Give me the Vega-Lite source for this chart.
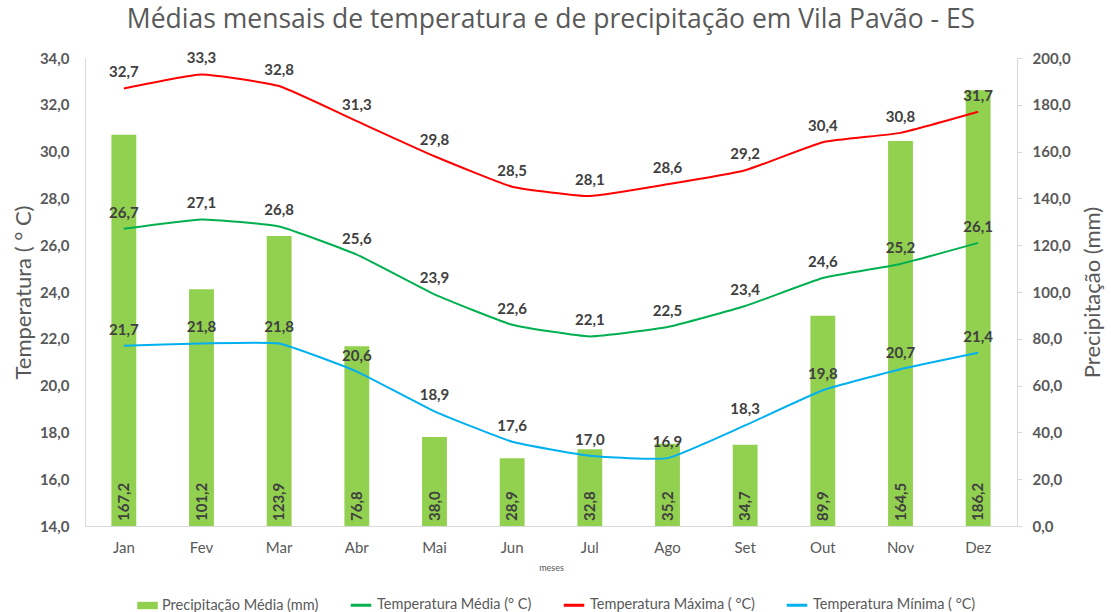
{
  "$schema": "https://vega.github.io/schema/vega-lite/v6.json",
  "width": 932,
  "height": 468,
  "autosize": {"type": "none"},
  "padding": {"left": 85, "top": 58, "right": 94, "bottom": 86},
  "background": "white",
  "title": {
    "text": "Médias mensais de temperatura e de precipitação em Vila Pavão - ES",
    "font": "Open Sans",
    "fontSize": 26.5,
    "fontWeight": "normal",
    "color": "#595959",
    "anchor": "middle",
    "offset": 18
  },
  "config": {
    "locale": {
      "number": {"decimal": ",", "thousands": ".", "grouping": [3], "currency": ["R$", ""]}
    },
    "font": "Lato",
    "view": {"stroke": null},
    "axis": {
      "grid": false,
      "labelFont": "Lato",
      "titleFont": "Lato",
      "labelColor": "#595959",
      "titleColor": "#595959",
      "domainColor": "#D9D9D9",
      "tickColor": "#D9D9D9"
    },
    "legend": {"labelFont": "Lato", "labelFontSize": 14.5, "labelColor": "#595959", "labelLimit": 400}
  },
  "datasets": {
    "precip": [
      {"mes": "Jan", "precip": 167.2},
      {"mes": "Fev", "precip": 101.2},
      {"mes": "Mar", "precip": 123.9},
      {"mes": "Abr", "precip": 76.8},
      {"mes": "Mai", "precip": 38.0},
      {"mes": "Jun", "precip": 28.9},
      {"mes": "Jul", "precip": 32.8},
      {"mes": "Ago", "precip": 35.2},
      {"mes": "Set", "precip": 34.7},
      {"mes": "Out", "precip": 89.9},
      {"mes": "Nov", "precip": 164.5},
      {"mes": "Dez", "precip": 186.2}
    ],
    "temp": [
      {"mes": "Jan", "serie": "Temperatura Média (° C)", "valor": 26.7},
      {"mes": "Fev", "serie": "Temperatura Média (° C)", "valor": 27.1},
      {"mes": "Mar", "serie": "Temperatura Média (° C)", "valor": 26.8},
      {"mes": "Abr", "serie": "Temperatura Média (° C)", "valor": 25.6},
      {"mes": "Mai", "serie": "Temperatura Média (° C)", "valor": 23.9},
      {"mes": "Jun", "serie": "Temperatura Média (° C)", "valor": 22.6},
      {"mes": "Jul", "serie": "Temperatura Média (° C)", "valor": 22.1},
      {"mes": "Ago", "serie": "Temperatura Média (° C)", "valor": 22.5},
      {"mes": "Set", "serie": "Temperatura Média (° C)", "valor": 23.4},
      {"mes": "Out", "serie": "Temperatura Média (° C)", "valor": 24.6},
      {"mes": "Nov", "serie": "Temperatura Média (° C)", "valor": 25.2},
      {"mes": "Dez", "serie": "Temperatura Média (° C)", "valor": 26.1},
      {"mes": "Jan", "serie": "Temperatura Máxima ( °C)", "valor": 32.7},
      {"mes": "Fev", "serie": "Temperatura Máxima ( °C)", "valor": 33.3},
      {"mes": "Mar", "serie": "Temperatura Máxima ( °C)", "valor": 32.8},
      {"mes": "Abr", "serie": "Temperatura Máxima ( °C)", "valor": 31.3},
      {"mes": "Mai", "serie": "Temperatura Máxima ( °C)", "valor": 29.8},
      {"mes": "Jun", "serie": "Temperatura Máxima ( °C)", "valor": 28.5},
      {"mes": "Jul", "serie": "Temperatura Máxima ( °C)", "valor": 28.1},
      {"mes": "Ago", "serie": "Temperatura Máxima ( °C)", "valor": 28.6},
      {"mes": "Set", "serie": "Temperatura Máxima ( °C)", "valor": 29.2},
      {"mes": "Out", "serie": "Temperatura Máxima ( °C)", "valor": 30.4},
      {"mes": "Nov", "serie": "Temperatura Máxima ( °C)", "valor": 30.8},
      {"mes": "Dez", "serie": "Temperatura Máxima ( °C)", "valor": 31.7},
      {"mes": "Jan", "serie": "Temperatura Mínima ( °C)", "valor": 21.7},
      {"mes": "Fev", "serie": "Temperatura Mínima ( °C)", "valor": 21.8},
      {"mes": "Mar", "serie": "Temperatura Mínima ( °C)", "valor": 21.8},
      {"mes": "Abr", "serie": "Temperatura Mínima ( °C)", "valor": 20.6},
      {"mes": "Mai", "serie": "Temperatura Mínima ( °C)", "valor": 18.9},
      {"mes": "Jun", "serie": "Temperatura Mínima ( °C)", "valor": 17.6},
      {"mes": "Jul", "serie": "Temperatura Mínima ( °C)", "valor": 17.0},
      {"mes": "Ago", "serie": "Temperatura Mínima ( °C)", "valor": 16.9},
      {"mes": "Set", "serie": "Temperatura Mínima ( °C)", "valor": 18.3},
      {"mes": "Out", "serie": "Temperatura Mínima ( °C)", "valor": 19.8},
      {"mes": "Nov", "serie": "Temperatura Mínima ( °C)", "valor": 20.7},
      {"mes": "Dez", "serie": "Temperatura Mínima ( °C)", "valor": 21.4}
    ]
  },
  "encoding": {
    "x": {
      "field": "mes",
      "type": "nominal",
      "sort": ["Jan", "Fev", "Mar", "Abr", "Mai", "Jun", "Jul", "Ago", "Set", "Out", "Nov", "Dez"],
      "scale": {"paddingInner": 0.68, "paddingOuter": 0.34},
      "axis": {
        "title": "meses",
        "titleFontSize": 9,
        "titleFontWeight": "normal",
        "titlePadding": 8,
        "labelAngle": 0,
        "labelFontSize": 15,
        "labelPadding": 14,
        "ticks": false
      }
    }
  },
  "layer": [
    {
      "data": {"name": "precip"},
      "layer": [
        {
          "mark": {"type": "bar"},
          "encoding": {
            "y": {
              "field": "precip",
              "type": "quantitative",
              "title": "Precipitação (mm)",
              "scale": {"domain": [0, 200], "nice": false},
              "axis": {
                "orient": "right",
                "values": [0, 20, 40, 60, 80, 100, 120, 140, 160, 180, 200],
                "format": ".1f",
                "labelFontSize": 15,
                "labelFontWeight": "bold",
                "labelPadding": 10,
                "ticks": true,
                "tickSize": 5,
                "titleFontSize": 22,
                "titleFontWeight": "normal",
                "titleAngle": 270,
                "titlePadding": 34
              }
            },
            "fill": {
              "datum": "Precipitação Média (mm)",
              "scale": {"range": ["#92D050"]},
              "legend": {
                "title": null,
                "orient": "none",
                "legendX": 52,
                "legendY": 537,
                "symbolType": "M-1,-0.36L1,-0.36L1,0.36L-1,0.36Z",
                "symbolSize": 420,
                "symbolStrokeWidth": 0
              }
            }
          }
        },
        {
          "mark": {
            "type": "text",
            "angle": 270,
            "align": "left",
            "baseline": "middle",
            "dx": 5,
            "fontSize": 15,
            "fontWeight": "bold",
            "color": "#404040"
          },
          "encoding": {
            "y": {"datum": 0, "type": "quantitative", "title": "Precipitação (mm)"},
            "text": {"field": "precip", "type": "quantitative", "format": ".1f"}
          }
        }
      ]
    },
    {
      "data": {"name": "temp"},
      "layer": [
        {
          "mark": {"type": "line", "strokeWidth": 2, "interpolate": "cardinal", "tension": 0.6},
          "encoding": {
            "y": {
              "field": "valor",
              "type": "quantitative",
              "title": "Temperatura ( ° C)",
              "scale": {"domain": [14, 34], "nice": false},
              "axis": {
                "orient": "left",
                "values": [14, 16, 18, 20, 22, 24, 26, 28, 30, 32, 34],
                "format": ".1f",
                "labelFontSize": 15,
                "labelFontWeight": "bold",
                "labelPadding": 16,
                "ticks": false,
                "titleFontSize": 22,
                "titleFontWeight": "normal",
                "titlePadding": 4
              }
            },
            "stroke": {
              "field": "serie",
              "type": "nominal",
              "scale": {
                "domain": ["Temperatura Média (° C)", "Temperatura Máxima ( °C)", "Temperatura Mínima ( °C)"],
                "range": ["#00B050", "#FF0000", "#00B0F0"]
              },
              "legend": {
                "title": null,
                "orient": "none",
                "direction": "horizontal",
                "legendX": 264,
                "legendY": 535,
                "symbolType": "stroke",
                "symbolSize": 420,
                "symbolStrokeWidth": 3,
                "columnPadding": 25
              }
            }
          }
        },
        {
          "mark": {
            "type": "text",
            "baseline": "middle",
            "dy": -16,
            "fontSize": 15,
            "fontWeight": "bold",
            "color": "#404040"
          },
          "encoding": {
            "y": {"field": "valor", "type": "quantitative", "title": "Temperatura ( ° C)"},
            "text": {"field": "valor", "type": "quantitative", "format": ".1f"}
          }
        }
      ]
    }
  ],
  "resolve": {"scale": {"y": "independent"}}
}
